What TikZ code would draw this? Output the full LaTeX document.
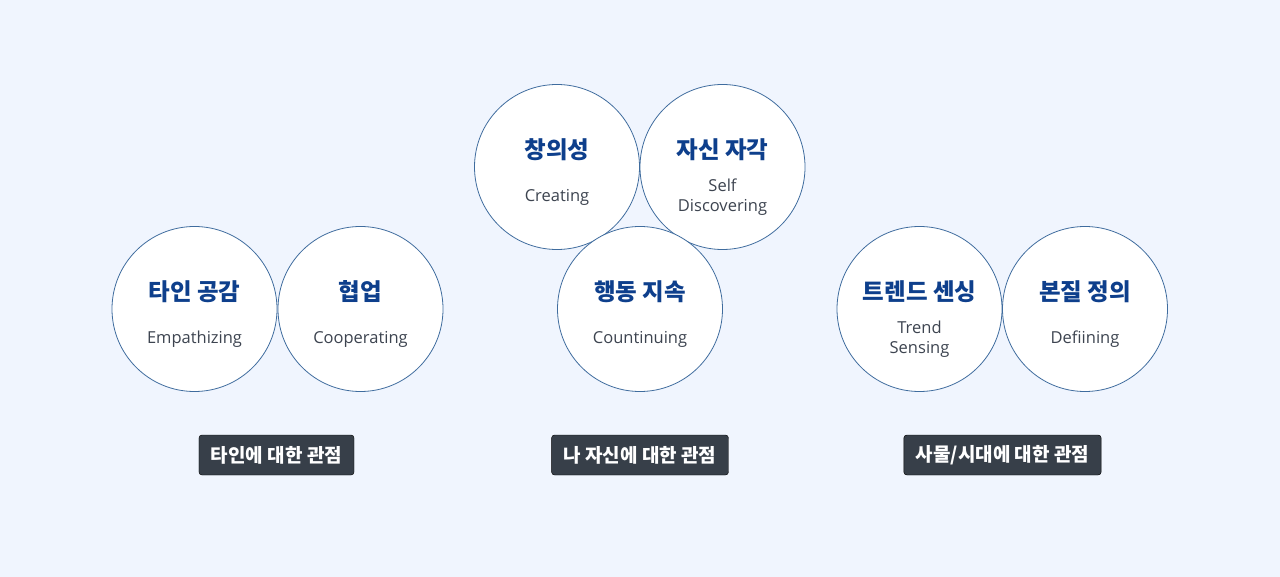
\documentclass[tikz,border=0pt]{standalone}
\usepackage{fontspec}
\setmainfont{Open Sans}
\newfontfamily\kofont{Noto Sans CJK KR}
\usetikzlibrary{positioning}
\definecolor{bgblue}{HTML}{F0F5FE}
\definecolor{ringblue}{HTML}{3F6C9E}
\definecolor{titleblue}{HTML}{0E3F8C}
\definecolor{subgray}{HTML}{3D4450}
\definecolor{tagdark}{HTML}{373F49}
\tikzset{
  bubble/.style={
    circle,
    fill=white,
    draw=ringblue, line width=0.8pt,
    minimum size=165pt,
    inner sep=0pt
  },
  title/.style={
    font=\kofont\bfseries\fontsize{23.5}{27}\selectfont,
    text=titleblue
  },
  sub/.style={
    font=\fontsize{16.5}{20}\selectfont,
    text=subgray,
    align=center
  },
  tag/.style={
    rectangle,
    rounded corners=3pt,
    fill=tagdark,
    draw=black, thin,
    text=white,
    font=\kofont\bfseries\fontsize{19}{22}\selectfont,
    minimum height=40pt,
    inner xsep=12pt
  },
}
\begin{document}
\begin{tikzpicture}[x=1pt,y=-1pt]
  \fill[bgblue] (0,0) rectangle (1280,577);
  \useasboundingbox (0,0) rectangle (1280,577);
  % others
  \node[bubble] (emp) at (194.5,309) {};
  \node[bubble] (coop) at (360.5,309) {};
  \node[title] (empk) at ([yshift=17pt]emp.center) {타인 공감};
  \node[sub] (empe) at ([yshift=-30pt]emp.center) {Empathizing};
  \node[title] (coopk) at ([yshift=17pt]coop.center) {협업};
  \node[sub] (coope) at ([yshift=-30pt]coop.center) {Cooperating};
  \node[tag] (tagone) at (276.5,455) {타인에 대한 관점};
  % myself
  \node[bubble] (cre) at (557,167) {};
  \node[bubble] (self) at (722.5,167) {};
  \node[bubble] (cont) at (640,309) {};
  \node[title] (crek) at ([yshift=17pt]cre.center) {창의성};
  \node[sub] (cree) at ([yshift=-30pt]cre.center) {Creating};
  \node[title] (selfk) at ([yshift=17pt]self.center) {자신 자각};
  \node[sub] (selfe) at ([yshift=-30pt]self.center) {Self\\Discovering};
  \node[title] (contk) at ([yshift=17pt]cont.center) {행동 지속};
  \node[sub] (conte) at ([yshift=-30pt]cont.center) {Countinuing};
  \node[tag] (tagtwo) at (640,455) {나 자신에 대한 관점};
  % things and times
  \node[bubble] (trend) at (919.5,309) {};
  \node[bubble] (def) at (1085,309) {};
  \node[title] (trendk) at ([yshift=17pt]trend.center) {트렌드 센싱};
  \node[sub] (trende) at ([yshift=-30pt]trend.center) {Trend\\Sensing};
  \node[title] (defk) at ([yshift=17pt]def.center) {본질 정의};
  \node[sub] (defe) at ([yshift=-30pt]def.center) {Defiining};
  \node[tag] (tagthree) at (1002.5,455) {사물/시대에 대한 관점};
\end{tikzpicture}
\end{document}
